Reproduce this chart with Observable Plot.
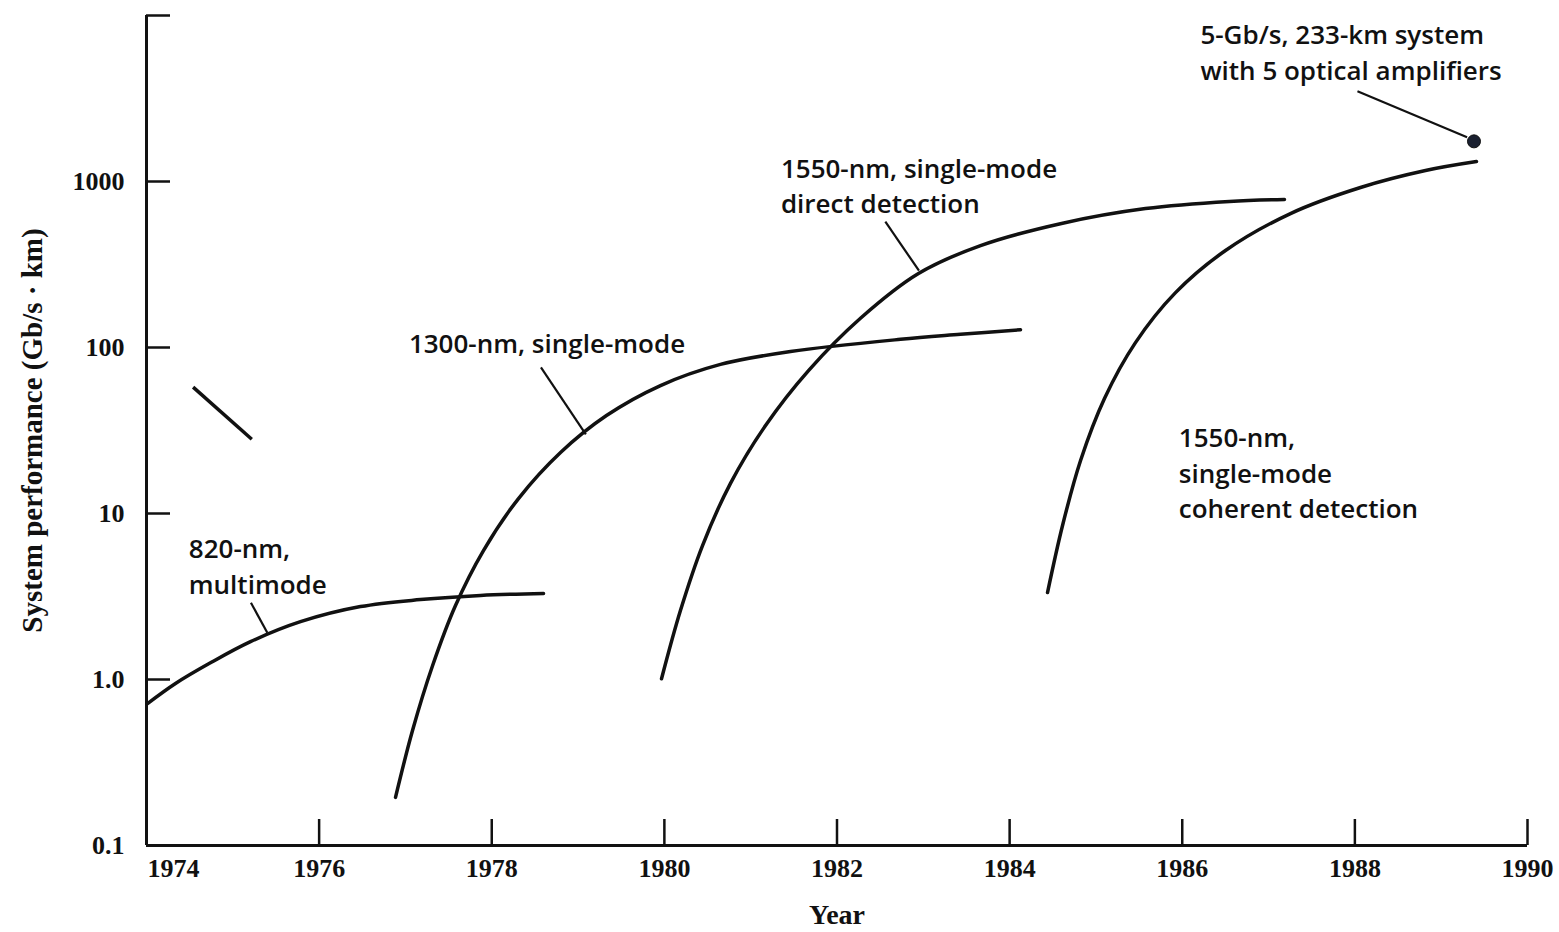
<!DOCTYPE html>
<html><head><meta charset="utf-8">
<script src="https://cdn.jsdelivr.net/npm/d3@7"></script>
<script src="https://cdn.jsdelivr.net/npm/@observablehq/plot@0.6"></script>
<style>body{margin:0;background:#fff;} #chart svg{display:block}</style>
</head><body><div id="chart"></div>
<script>
// 820-nm multimode
const years820 = [1974.012, 1974.336, 1974.741, 1975.205, 1975.784, 1976.479, 1977.174, 1977.870, 1978.600];
const perf820  = [0.716, 0.946, 1.26, 1.69, 2.23, 2.75, 3.03, 3.21, 3.30];
// 1300-nm single-mode
const years1300 = [1976.885, 1977.082, 1977.314, 1977.580, 1977.904, 1978.310, 1978.797, 1979.329, 1979.955, 1980.650, 1981.461, 1982.736, 1983.431, 1984.126];
const perf1300  = [0.195, 0.493, 1.21, 2.79, 5.98, 12.3, 23.3, 38.9, 59.0, 79.1, 94.6, 112, 120, 128];
// 1550-nm single-mode direct detection
const years1550d = [1979.967, 1980.187, 1980.442, 1980.766, 1981.172, 1981.670, 1982.272, 1982.944, 1983.663, 1984.601, 1985.574, 1986.547, 1987.184];
const perf1550d  = [1.01, 2.61, 6.41, 15.2, 33.9, 72.6, 150, 279, 411, 559, 687, 759, 780];
// 1550-nm single-mode coherent detection
const years1550c = [1984.439, 1984.613, 1984.821, 1985.099, 1985.458, 1985.922, 1986.501, 1987.254, 1988.065, 1988.818, 1989.409];
const perf1550c  = [3.34, 8.47, 20.8, 49.3, 107, 214, 384, 641, 920, 1164, 1318];

// record point: 5-Gb/s, 233-km system
const recordYear = [1989.38];
const recordPerf = [1745];

// short stroke near the top-left
const strayYear = [1974.54, 1975.22];
const strayPerf = [57.7, 28.0];

// leader lines
const leaderYear1 = [1975.21, 1978.57, 1982.56, 1988.03];
const leaderPerf1 = [2.90, 76, 573, 3500];
const leaderYear2 = [1975.40, 1979.09, 1982.95, 1989.30];
const leaderPerf2 = [1.91, 30, 290, 1846];

// labels
const labelText = ["820-nm,\nmultimode", "1300-nm, single-mode", "1550-nm, single-mode\ndirect detection", "5-Gb/s, 233-km system\nwith 5 optical amplifiers", "1550-nm,\nsingle-mode\ncoherent detection"];
const labelYear = [1974.49, 1977.04, 1981.35, 1986.21, 1985.96];
const labelPerf = [4.92, 108, 966, 6150, 17.9];

// axes
const xTickYears = [1976, 1978, 1980, 1982, 1984, 1986, 1988, 1990];
const xLabelYears = [1974, 1976, 1978, 1980, 1982, 1984, 1986, 1988, 1990];
const yTickValues = [0.1, 1, 10, 100, 1000];
const yTickLabels = ["0.1", "1.0", "10", "100", "1000"];
const yTickMarks = [1, 10, 100, 1000, 10000];
const xTitle = "Year";
const yTitle = "System performance (Gb/s \u00b7 km)";

const series = [];
const add = (name, xs, ys) => xs.forEach((x, i) => series.push({name, year: x, perf: ys[i]}));
add("820", years820, perf820);
add("1300", years1300, perf1300);
add("1550d", years1550d, perf1550d);
add("1550c", years1550c, perf1550c);

const leaders = leaderYear1.map((d, i) => ({x1: d, y1: leaderPerf1[i], x2: leaderYear2[i], y2: leaderPerf2[i]}));
const labels = labelText.map((t, i) => ({t, x: labelYear[i], y: labelPerf[i]}));
const stray = [{x1: strayYear[0], y1: strayPerf[0], x2: strayYear[1], y2: strayPerf[1]}];

const W = 1559, H = 932, mL = 146, mR = 32, mT = 15, mB = 87;
const plotW = W - mL - mR, plotH = H - mT - mB;
const ink = "#111";
const annFont = "Open Sans";

const chart = Plot.plot({
  width: W, height: H,
  marginLeft: mL, marginRight: mR, marginTop: mT, marginBottom: mB,
  style: {fontFamily: "Liberation Serif", fontSize: "26px", color: ink, background: "white"},
  x: {domain: [1974, 1990], axis: null},
  y: {type: "log", domain: [0.1, 10000], axis: null},
  marks: [
    // axis lines
    Plot.ruleX([1974], {stroke: ink, strokeWidth: 3}),
    Plot.ruleY([0.1], {stroke: ink, strokeWidth: 3}),
    // inward ticks
    Plot.ruleX(xTickYears, {stroke: ink, strokeWidth: 2.5, insetTop: plotH - 26}),
    Plot.ruleY(yTickMarks, {stroke: ink, strokeWidth: 2.5, insetRight: plotW - 24}),
    // tick labels
    Plot.text(yTickValues, {x: 1974, y: d => d, text: (d, i) => yTickLabels[i], textAnchor: "end", dx: -22, fontWeight: "bold", fontSize: 26, fill: ink}),
    Plot.text(xLabelYears.slice(1), {x: d => d, frameAnchor: "bottom", text: d => String(d), lineAnchor: "top", textAnchor: "middle", dy: 13, fontWeight: "bold", fontSize: 26, fill: ink}),
    Plot.text(xLabelYears.slice(0, 1), {x: d => d, frameAnchor: "bottom", text: d => String(d), lineAnchor: "top", textAnchor: "start", dy: 13, dx: 1, fontWeight: "bold", fontSize: 26, fill: ink}),
    // axis titles
    Plot.text([yTitle], {frameAnchor: "left", dx: -114, rotate: -90, textAnchor: "middle", lineAnchor: "middle", fontSize: 29, fontWeight: "bold", fill: ink}),
    Plot.text([xTitle], {frameAnchor: "bottom", dy: 70, textAnchor: "middle", lineAnchor: "middle", fontSize: 28, fontWeight: "bold", fill: ink}),
    // curves
    Plot.line(series, {x: "year", y: "perf", z: "name", curve: "catmull-rom", stroke: ink, strokeWidth: 3.5}),
    Plot.link(stray, {x1: "x1", y1: "y1", x2: "x2", y2: "y2", stroke: ink, strokeWidth: 3.5}),
    // leaders
    Plot.link(leaders, {x1: "x1", y1: "y1", x2: "x2", y2: "y2", stroke: ink, strokeWidth: 2.2}),
    // record point
    Plot.dot(recordYear, {x: d => d, y: (d, i) => recordPerf[i], r: 6.5, fill: "#1a2030", stroke: ink, strokeWidth: 1}),
    // annotations
    Plot.text(labels, {x: "x", y: "y", text: "t", textAnchor: "start", lineAnchor: "middle", lineHeight: 1.36, fontFamily: annFont, fontWeight: 600, fontSize: 26, fill: ink})
  ]
});
document.getElementById("chart").append(chart);
</script>
</body></html>
